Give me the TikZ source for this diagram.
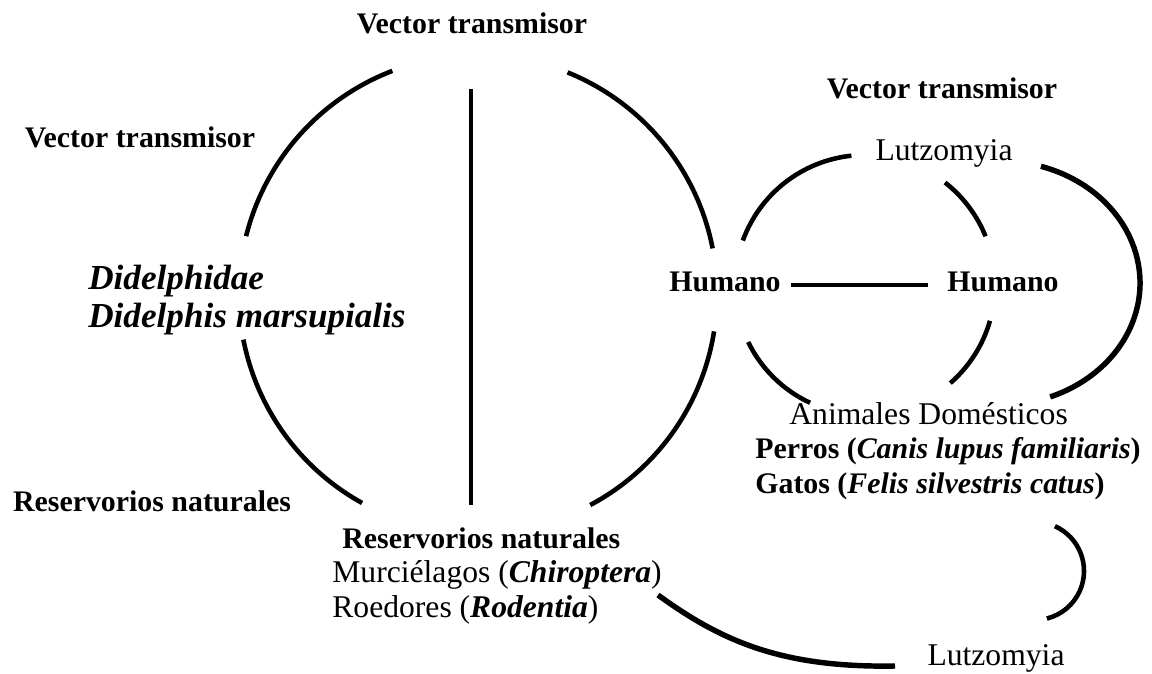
\documentclass[tikz,border=0pt]{standalone}
\usepackage{fontspec}
\setmainfont{Liberation Serif}
\tikzset{
  ciclo/.style   = {line width=2.6pt},
  grueso/.style  = {line width=3.1pt},
  titulo/.style  = {font=\fontsize{17}{20}\selectfont\bfseries, inner sep=0pt},
  especie/.style = {font=\fontsize{18}{19.6}\selectfont, align=left, inner sep=0pt}
}

\begin{document}
\begin{tikzpicture}[x=0.02cm,y=0.02cm]
  \useasboundingbox (0,0) rectangle (1152,673);
  % ciclo selvatico
  \node[titulo] (vtop) at (472,650) {Vector transmisor};
  \node[titulo] (vizq) at (140,536) {Vector transmisor};
  \node[titulo] (rizq) at (152,172) {Reservorios naturales};
  \node[titulo,font=\fontsize{20}{21.5}\selectfont\bfseries\itshape,align=left,anchor=west]
       (didel) at (88,373) {Didelphidae\\Didelphis marsupialis};
  \node[especie,anchor=west] (rnat) at (332,97)
       {\hspace*{0.2cm}{\bfseries\fontsize{17}{20}\selectfont Reservorios naturales}\\
        Murciélagos (\textbf{\textit{Chiroptera}})\\Roedores (\textbf{\textit{Rodentia}})};
  % ciclo domestico
  \node[titulo] (hum1) at (725,391) {Humano};
  \node[titulo] (hum2) at (1003,391) {Humano};
  \node[titulo] (vder) at (942,585) {Vector transmisor};
  \node[especie] (lutz1) at (944,520) {Lutzomyia};
  \node[especie,anchor=west] (anim) at (755,222)
       {\hspace*{0.68cm}Animales Domésticos\\
        {\bfseries\fontsize{17}{19.6}\selectfont Perros (\textit{Canis lupus familiaris})}\\
        {\bfseries\fontsize{17}{19.6}\selectfont Gatos (\textit{Felis silvestris catus})}};
  \node[especie] (lutz2) at (996,15) {Lutzomyia};

  % circulo grande, cortado en cuatro arcos
  \coordinate (cA) at (478,379);
  \foreach \a/\b in {111/166, 191/241, -62/-9, 11/68}
    \draw[ciclo] ([shift={(\a:239)}]cA) arc[start angle=\a, end angle=\b, radius=239];
  \draw[ciclo] (471,584) -- (471,168);

  % circulo humano - humano
  \coordinate (cB) at (865,388);
  \foreach \a/\b in {96/160, 22/52, -49/-16, 206/245}
    \draw[ciclo] ([shift={(\a:130)}]cB) arc[start angle=\a, end angle=\b, radius=130];
  \draw[ciclo, shorten <=0.2cm, shorten >=0.38cm]
       ([yshift=-0.06cm]hum1.east) -- ([yshift=-0.06cm]hum2.west);

  \coordinate (cC) at (1000,390);
  \draw[grueso] ([shift={(73:140 and 122)}]cC)
       arc[start angle=73, end angle=-69, x radius=140, y radius=122];
  \coordinate (cD) at (1035,102);
  \draw[ciclo] ([shift={(66:49)}]cD) arc[start angle=66, end angle=-76, radius=49];
  \draw[grueso] (658,78) .. controls (720,33) and (780,5) .. (895,7);
\end{tikzpicture}
\end{document}
